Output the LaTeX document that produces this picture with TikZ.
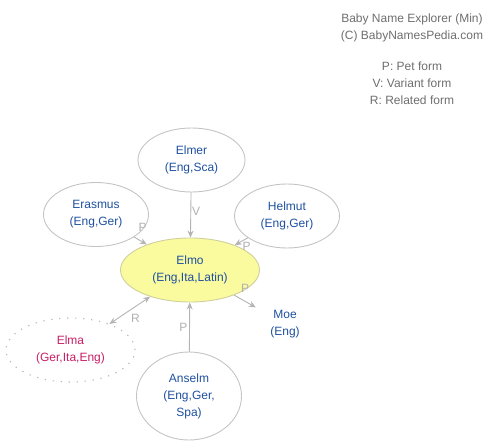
\documentclass[tikz,border=0pt]{standalone}
\usepackage{fontspec}
\setmainfont{Liberation Sans}
\usetikzlibrary{shapes.geometric,arrows.meta}
\definecolor{nblue}{HTML}{1E50A0}
\definecolor{nred}{HTML}{C81E64}
\definecolor{ngray}{HTML}{C4C4C4}
\definecolor{egray}{HTML}{B4B4B4}
\definecolor{lgray}{HTML}{B0B0B0}
\definecolor{tgray}{HTML}{6E6E6E}
\definecolor{yfill}{HTML}{FAFA9E}
\begin{document}
\begin{tikzpicture}[x=1pt,y=-1pt,
  every node/.style={font=\fontsize{12}{17}\selectfont},
  nmbox/.style={ellipse,draw=ngray,line width=0.9pt,inner sep=0pt,align=center,text=nblue},
  mainbox/.style={nmbox,fill=yfill,draw=ngray!80!yellow},
  ghostbox/.style={ellipse,inner sep=0pt,align=center,text=nblue},
  relbox/.style={nmbox,draw=ngray!95!black,dash pattern=on 1.3pt off 6.7pt,line width=1.1pt,text=nred},
  conn/.style={draw=egray,line width=0.9pt,-{Stealth[length=7pt,width=6pt]}},
  lbl/.style={text=lgray,inner sep=0pt},
  info/.style={text=tgray,align=center,inner sep=0pt}]
\useasboundingbox (0,0) rectangle (503,447);
\node[info] (title) at (412,27.5) {Baby Name Explorer (Min)\\(C) BabyNamesPedia.com};
\node[info] (legend) at (412,83.5) {P: Pet form\\V: Variant form\\R: Related form};
\node[mainbox,minimum width=139pt,minimum height=64pt] (elmo) at (190,270) {Elmo\\(Eng,Ita,Latin)};
\node[nmbox,minimum width=107pt,minimum height=64pt] (elmer) at (191.5,160) {Elmer\\(Eng,Sca)};
\node[nmbox,minimum width=105pt,minimum height=64pt] (erasmus) at (96,214.5) {Erasmus\\(Eng,Ger)};
\node[nmbox,minimum width=105pt,minimum height=64pt] (helmut) at (287,216) {Helmut\\(Eng,Ger)};
\node[relbox,minimum width=129pt,minimum height=64pt] (elma) at (70.5,350) {Elma\\(Ger,Ita,Eng)};
\node[nmbox,minimum width=105pt,minimum height=88pt] (anselm) at (189,396) {Anselm\\(Eng,Ger,\\Spa)};
\node[ghostbox,minimum width=80pt,minimum height=48pt] (moe) at (285,324) {Moe\\(Eng)};
\draw[conn] (elmer) -- (elmo);
\draw[conn] (erasmus) -- (elmo);
\draw[conn] (helmut) -- (elmo);
\draw[conn] (elmo) -- (moe);
\draw[conn,{Stealth[length=7pt,width=6pt]}-{Stealth[length=7pt,width=6pt]}] (elma) -- (elmo);
\draw[conn] (anselm) -- (elmo);
\node[lbl] (lv) at (196,211) {V};
\node[lbl] (lp1) at (142.7,227) {P};
\node[lbl] (lp2) at (246.7,246.7) {P};
\node[lbl] (lp3) at (245,288) {P};
\node[lbl] (lr) at (135.5,318) {R};
\node[lbl] (lp4) at (183.3,327.3) {P};
\end{tikzpicture}
\end{document}
